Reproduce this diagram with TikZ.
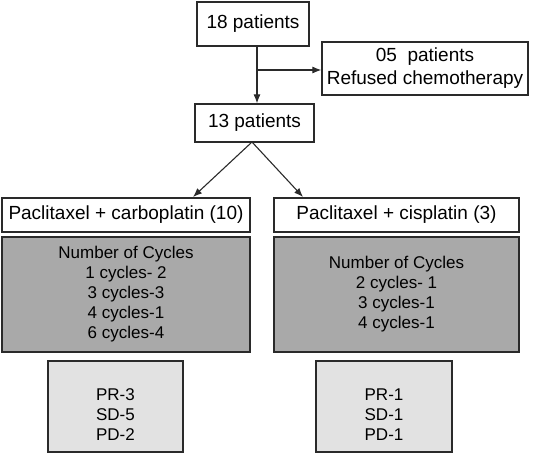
\documentclass[tikz,border=0pt]{standalone}
\usepackage{fontspec}
\setmainfont{Liberation Sans}
\usetikzlibrary{arrows.meta}
\definecolor{darkbox}{HTML}{A9A9A9}
\definecolor{lightbox}{HTML}{E2E2E2}
\definecolor{edge}{HTML}{2A2A2A}
\begin{document}
\begin{tikzpicture}[x=1pt,y=-1pt,
  box/.style={draw=edge, line width=1.2pt, fill=white, inner sep=0pt, align=center},
  big/.style={font=\fontsize{19}{23}\selectfont},
  small/.style={font=\fontsize{17}{20}\selectfont},
  conn/.style={draw=edge, line width=1.1pt},
  tip/.style={-{Latex[length=9pt,width=7pt]}}]
\useasboundingbox (0,0) rectangle (537,453);
\node[box,big,minimum width=112,minimum height=44] (p18) at (253,24) {18 patients};
\node[box,big,minimum width=206,minimum height=53] (p05) at (425,68.5) {05\ \ patients\\Refused chemotherapy};
\node[box,big,minimum width=119,minimum height=38] (p13) at (254.5,123) {13 patients};
\node[box,big,minimum width=248,minimum height=34] (pc) at (126,215) {Paclitaxel + carboplatin (10)};
\node[box,big,minimum width=245,minimum height=34] (pci) at (396.5,215) {Paclitaxel + cisplatin (3)};
\node[box,small,fill=darkbox,minimum width=248,minimum height=115] (cyc1) at (126,294.5) {Number of Cycles\\1 cycles- 2\\3 cycles-3\\4 cycles-1\\6 cycles-4};
\node[box,small,fill=darkbox,minimum width=245,minimum height=115] (cyc2) at (396.5,294.5) {Number of Cycles\\2 cycles- 1\\3 cycles-1\\4 cycles-1};
\node[box,fill=lightbox,minimum width=135,minimum height=91] (r1) at (115.5,406.5) {};
\node[small,align=center] (r1t) at ([yshift=-8]r1.center) {PR-3\\SD-5\\PD-2};
\node[box,fill=lightbox,minimum width=136,minimum height=91] (r2) at (384,406.5) {};
\node[small,align=center] (r2t) at ([yshift=-8]r2.center) {PR-1\\SD-1\\PD-1};
\coordinate (br) at (257,70);
\draw[conn,tip] (p18.south -| br) -- (p13.north -| br);
\draw[conn,tip] (br) -- (br -| p05.west);
\coordinate (apex) at (252,142);
\draw[conn,tip] (apex) -- (193,197);
\draw[conn,tip] (apex) -- (303,197);
\end{tikzpicture}
\end{document}
